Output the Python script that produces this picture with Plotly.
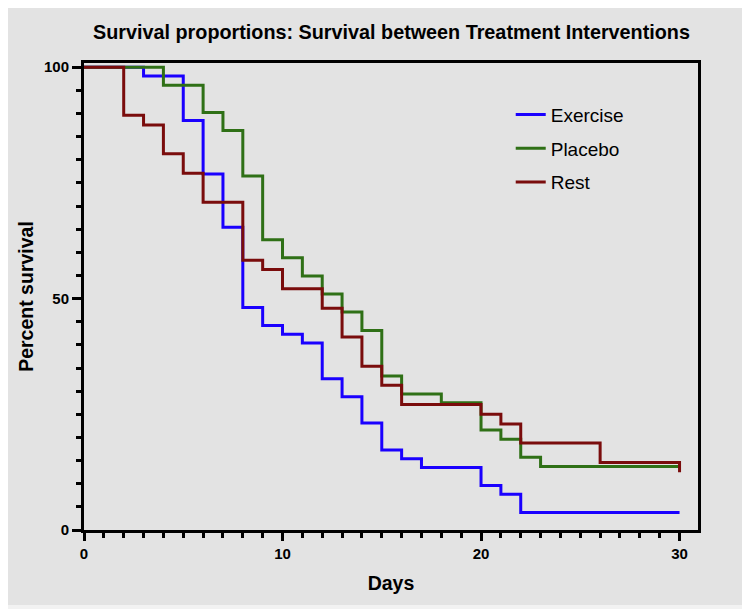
import plotly.graph_objects as go

# ---- data ----
exercise_days = [0, 3, 5, 6, 7, 8, 9, 10, 11, 12, 13, 14, 15, 16, 17, 20, 21, 22, 30]
exercise_pct = [100, 98.1, 88.5, 76.9, 65.4, 48.1, 44.2, 42.3, 40.4, 32.7, 28.8, 23.1, 17.3, 15.4, 13.5, 9.6, 7.7, 3.8, 3.8]

placebo_days = [0, 4, 6, 7, 8, 9, 10, 11, 12, 13, 14, 15, 16, 18, 20, 21, 22, 23, 30]
placebo_pct = [100, 96.1, 90.2, 86.3, 76.5, 62.7, 58.8, 54.9, 51.0, 47.1, 43.1, 33.3, 29.4, 27.5, 21.6, 19.6, 15.7, 13.7, 13.7]

rest_days = [0, 2, 3, 4, 5, 6, 8, 9, 10, 12, 13, 14, 15, 16, 20, 21, 22, 26, 30]
rest_pct = [100, 89.6, 87.5, 81.3, 77.1, 70.8, 58.3, 56.3, 52.1, 47.9, 41.7, 35.4, 31.3, 27.1, 25.0, 22.9, 18.8, 14.6, 12.5]

series_names = ["Exercise", "Placebo", "Rest"]
series_colors = ["#1a00ff", "#2f7016", "#7a0c0c"]

x_ticks = [0, 10, 20, 30]
y_ticks = [0, 50, 100]

fig = go.Figure()
for name, xs, ys, col in zip(series_names,
                             [exercise_days, placebo_days, rest_days],
                             [exercise_pct, placebo_pct, rest_pct],
                             series_colors):
    fig.add_trace(go.Scatter(x=xs, y=ys, mode="lines", name=name, legendgroup=name,
                             line=dict(color=col, width=3, shape="hv")))

FONT = "Liberation Sans, Arial, sans-serif"

# the page body adds an 8px margin, so the figure is 8px smaller than the window
W, H = 742, 601
L, R, T, B = 76, 52, 55, 79
pw, ph = W - L - R, H - T - B

fig.update_layout(
    width=W, height=H,
    margin=dict(l=L, r=R, t=T, b=B),
    paper_bgcolor="#f2f2f2",
    plot_bgcolor="white",
    font=dict(family=FONT, color="black"),
    title=dict(text="<b>Survival proportions: Survival between Treatment Interventions</b>",
               x=383.5 / W, xanchor="center", y=1 - 24 / H, yanchor="middle",
               font=dict(size=19.8, family=FONT, color="black")),
    legend=dict(x=0.695, y=0.93, xanchor="left", yanchor="top",
                bgcolor="rgba(0,0,0,0)", font=dict(size=19, family=FONT),
                tracegroupgap=6),
    showlegend=True,
    shapes=[dict(type="rect", xref="paper", yref="paper",
                 x0=-L / pw, x1=(W - 4 - L) / pw,
                 y0=-(B - 4) / ph, y1=(ph + T) / ph,
                 fillcolor="#e3e3e3", line=dict(width=0), layer="below")],
)

fig.update_xaxes(
    range=[0, 30.93], tickvals=x_ticks, ticks="outside", ticklen=8, tickwidth=2.5,
    tickcolor="black", showline=True, linecolor="black", linewidth=3, mirror=True,
    showgrid=False, zeroline=False, automargin=False,
    tickfont=dict(size=15, family=FONT, weight="bold"),
    minor=dict(dtick=1, ticks="outside", ticklen=5, tickwidth=2.5, tickcolor="black", showgrid=False),
    title=dict(text="<b>Days</b>", font=dict(size=19.5, family=FONT), standoff=16),
)
fig.update_yaxes(
    range=[0, 100.9], tickvals=y_ticks, ticks="outside", ticklen=9, tickwidth=2.5,
    tickcolor="black", showline=True, linecolor="black", linewidth=3, mirror=True,
    showgrid=False, zeroline=False, automargin=False,
    tickfont=dict(size=15, family=FONT, weight="bold"),
    minor=dict(dtick=5, ticks="outside", ticklen=5, tickwidth=2.5, tickcolor="black", showgrid=False),
    title=dict(text="<b>Percent survival</b>", font=dict(size=19.5, family=FONT), standoff=6),
)

fig.write_html("out.html")
